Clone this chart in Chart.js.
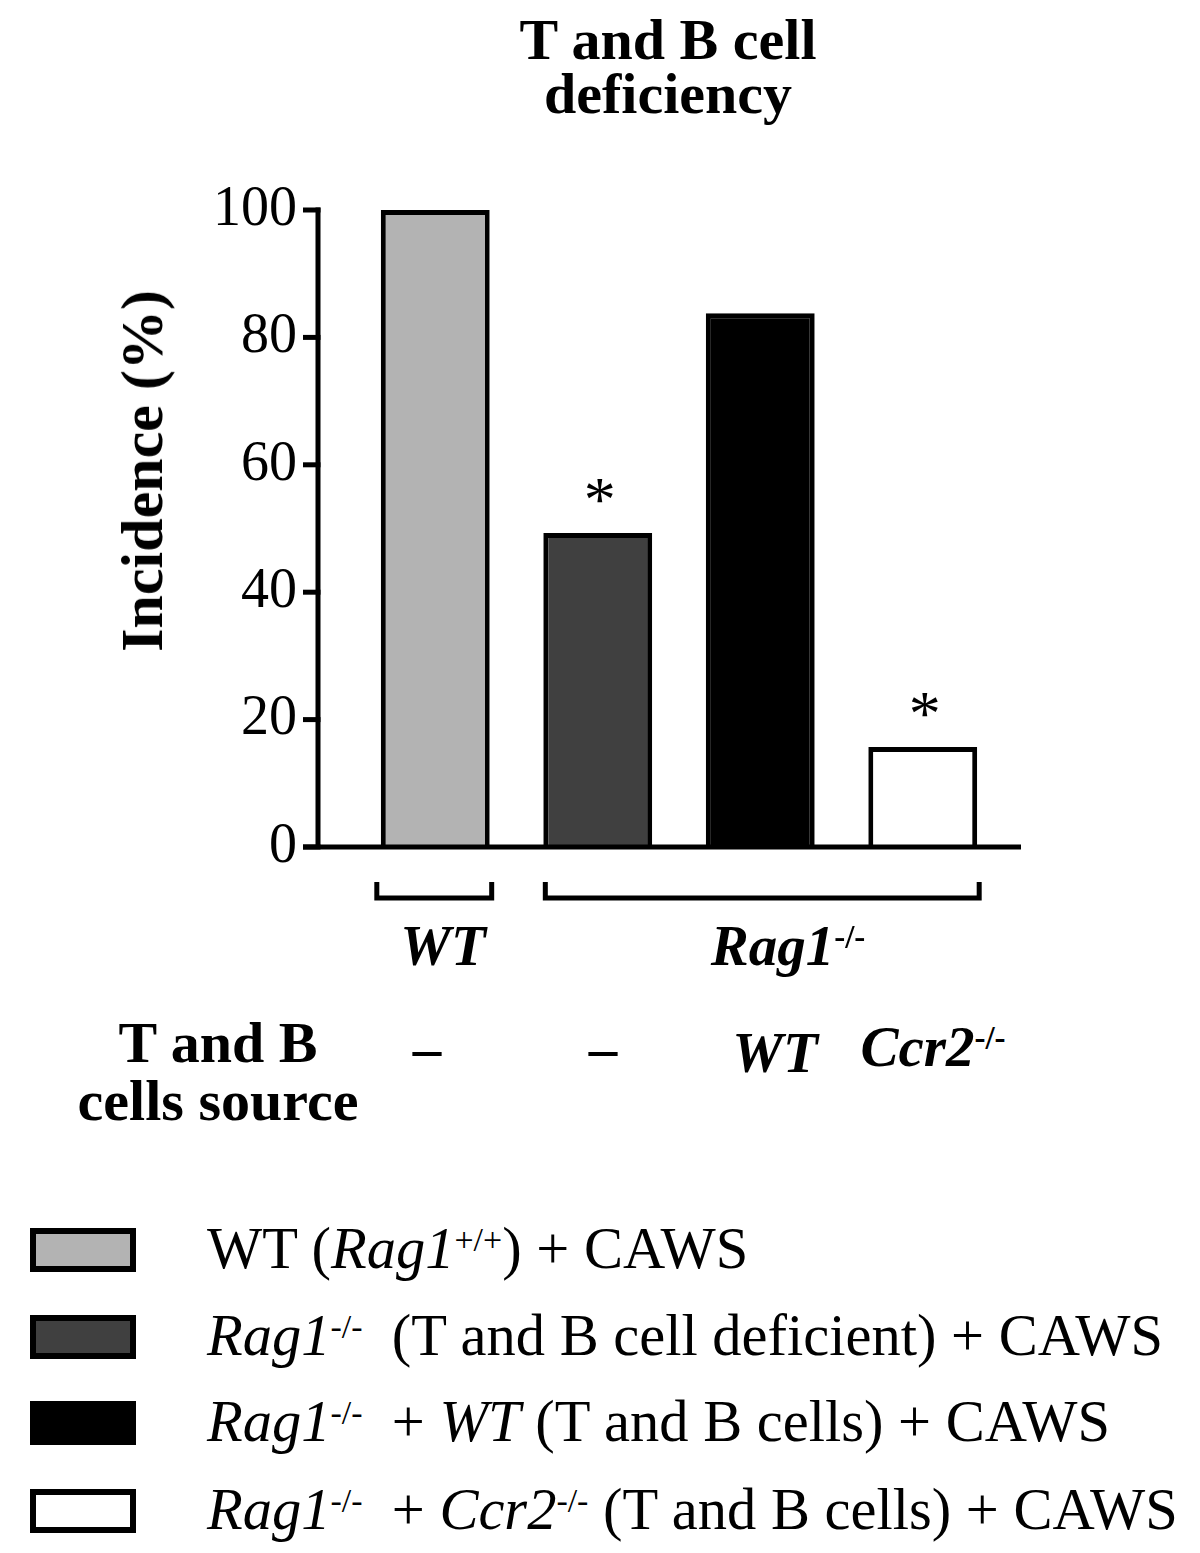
<!DOCTYPE html>
<html>
<head>
<meta charset="utf-8">
<script src="https://cdn.jsdelivr.net/npm/chart.js@4.4.1/dist/chart.umd.min.js"></script>
<style>
  body { margin: 0; background: #fff; }
  #page { position: relative; width: 1200px; height: 1553px; overflow: hidden; font-family: 'Liberation Serif', 'Times New Roman', serif; color: #000; }
  #chart { position: absolute; left: 0; top: 0; }
  .txt { position: absolute; line-height: 1; white-space: nowrap; }
  .c { transform: translateX(-50%); }
  .b { font-weight: bold; }
  sup { font-size: 0.58em; vertical-align: 0.5em; line-height: 0; }
  .swatch { position: absolute; left: 30px; width: 106px; height: 44px; border: 6px solid #000; box-sizing: border-box; }
</style>
</head>
<body>
<div id="page">
  <canvas id="chart" width="1200" height="1000"></canvas>
  <div id="title" class="txt b" style="left:668px; top:13px; font-size:58px; line-height:54px; text-align:center; transform:translateX(-50%);">T and B cell<br>deficiency</div>
  <div id="ylabel" class="txt b" style="left:142px; top:471px; font-size:60px; transform:translate(-50%,-50%) rotate(-90deg);">Incidence (%)</div>
  <div id="groups"></div>
  <div id="sourceRow"></div>
  <div id="legend"></div>
</div>

<script>
// Incidence (%) for each group
const categories = ['WT + CAWS', 'Rag1-/- + CAWS', 'Rag1-/- + WT + CAWS', 'Rag1-/- + Ccr2-/- + CAWS'];
const incidence = [100, 49.3, 83.8, 15.7];
const significant = [false, true, false, true];
const yTicks = [0, 20, 40, 60, 80, 100];

// Bracket groups under the x axis (category index ranges)
const groupNames = ['<i>WT</i>', '<i>Rag1</i><sup>-/-</sup>'];
const groupStart = [0, 1];
const groupEnd = [0, 3];

// "T and B cells source" row, one entry per bar
const sourceLabels = ['\u2013', '\u2013', '<i>WT</i>', '<i>Ccr2</i><sup>-/-</sup>'];

const legendLabels = [
  'WT (<i>Rag1</i><sup>+/+</sup>) + CAWS',
  '<i>Rag1</i><sup>-/-</sup>&nbsp; (T and B cell deficient) + CAWS',
  '<i>Rag1</i><sup>-/-</sup>&nbsp; + <i>WT</i> (T and B cells) + CAWS',
  '<i>Rag1</i><sup>-/-</sup>&nbsp; + <i>Ccr2</i><sup>-/-</sup> (T and B cells) + CAWS'
];

const fillColors = ['#b3b3b3', '#404040', '#000000', '#ffffff'];
const serif = "'Liberation Serif', 'Times New Roman', serif";

// Axis lines, ticks, brackets and asterisks drawn around the bars
const decorPlugin = {
  id: 'decor',
  afterDatasetsDraw(chart) {
    const { ctx, chartArea, scales: { y } } = chart;
    const bars = chart.getDatasetMeta(0).data;
    const axisX = chartArea.left - 36;
    const zeroY = y.getPixelForValue(0);

    ctx.save();
    ctx.strokeStyle = '#000';
    ctx.lineWidth = 5;
    ctx.lineCap = 'butt';

    // y axis
    ctx.beginPath();
    ctx.moveTo(axisX, y.getPixelForValue(100) - 2.5);
    ctx.lineTo(axisX, zeroY);
    ctx.stroke();
    yTicks.forEach(t => {
      const py = y.getPixelForValue(t);
      ctx.beginPath();
      ctx.moveTo(axisX - 15, py);
      ctx.lineTo(axisX + 2.5, py);
      ctx.stroke();
    });

    // x axis
    ctx.beginPath();
    ctx.moveTo(axisX - 15, zeroY);
    ctx.lineTo(chartArea.right + 17, zeroY);
    ctx.stroke();

    // group brackets
    ctx.lineJoin = 'miter';
    groupStart.forEach((s, g) => {
      const left = bars[s].x - bars[s].width / 2 - 4 + (s > 0 ? 6 : 0);
      const right = bars[groupEnd[g]].x + bars[groupEnd[g]].width / 2 + 2;
      ctx.beginPath();
      ctx.moveTo(left, zeroY + 35);
      ctx.lineTo(left, zeroY + 51);
      ctx.lineTo(right, zeroY + 51);
      ctx.lineTo(right, zeroY + 35);
      ctx.stroke();
    });

    // significance asterisks
    ctx.fillStyle = '#000';
    ctx.font = '64px ' + serif;
    ctx.textAlign = 'center';
    ctx.textBaseline = 'alphabetic';
    bars.forEach((bar, i) => {
      if (significant[i]) ctx.fillText('*', bar.x + 2, bar.y - 12);
    });
    ctx.restore();
  }
};

const chart = new Chart(document.getElementById('chart'), {
  type: 'bar',
  data: {
    labels: categories,
    datasets: [{
      data: incidence,
      backgroundColor: fillColors,
      borderColor: '#000',
      borderWidth: 5,
      categoryPercentage: 1,
      barPercentage: 0.67
    }]
  },
  options: {
    responsive: false,
    animation: false,
    devicePixelRatio: 1,
    layout: { padding: { top: 210, right: 196, bottom: 153, left: 0 } },
    plugins: { legend: { display: false }, tooltip: { enabled: false } },
    scales: {
      x: { display: false, offset: true },
      y: {
        min: 0,
        max: 100,
        afterFit: scale => { scale.width = 354; },
        afterBuildTicks: scale => { scale.ticks = yTicks.map(v => ({ value: v })); },
        grid: { display: false, drawTicks: false },
        border: { display: false },
        ticks: { padding: 57, color: '#000', font: { family: serif, size: 56 } }
      }
    }
  },
  plugins: [decorPlugin]
});

// HTML text around the chart
function addText(parent, html, x, baseline, size, cls, extra) {
  const el = document.createElement('div');
  el.className = 'txt ' + cls;
  el.innerHTML = html;
  el.style.left = x + 'px';
  el.style.top = (baseline - 0.8375 * size) + 'px';
  el.style.fontSize = size + 'px';
  if (extra) Object.assign(el.style, extra);
  parent.appendChild(el);
  return el;
}

const groupsEl = document.getElementById('groups');
const groupCenters = [443, 788];
groupNames.forEach((name, g) => addText(groupsEl, name, groupCenters[g], 965, 57, 'b c'));

const rowEl = document.getElementById('sourceRow');
const rowTitle = addText(rowEl, 'T and B<br>cells source', 218, 1062, 58, 'b c', { lineHeight: '58px', textAlign: 'center' });
rowTitle.style.top = (1062 - 48.5) + 'px';
const sourceCenters = [427, 603, 775, 933];
const sourceBaselines = [1067, 1067, 1072, 1066];
sourceLabels.forEach((lab, i) => addText(rowEl, lab, sourceCenters[i], sourceBaselines[i], 57, 'b c'));

const legendEl = document.getElementById('legend');
const swatchTops = [1228, 1315, 1401, 1489];
legendLabels.forEach((lab, i) => {
  const sw = document.createElement('div');
  sw.className = 'swatch';
  sw.style.top = swatchTops[i] + 'px';
  sw.style.background = fillColors[i];
  legendEl.appendChild(sw);
  addText(legendEl, lab, 207, swatchTops[i] + 41, 58.5, '');
});
</script>
</body>
</html>
